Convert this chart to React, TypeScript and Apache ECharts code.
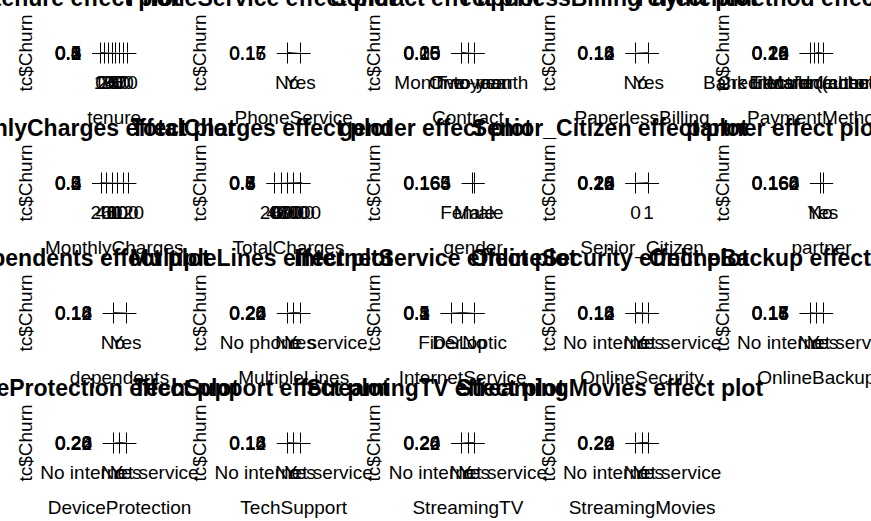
import React, { useEffect, useRef } from "react";
import * as echarts from "echarts";

const FONT = "'Liberation Sans', Arial, sans-serif";

// ---- data ----
const tenureTicks = [0, 10, 20, 30, 40, 50, 60, 70];
const tenureRange = [0, 72];
const tenureX = [0, 12, 24, 36, 48, 60, 72];
const tenureFit = [0.55, 0.38, 0.28, 0.21, 0.17, 0.13, 0.11];
const tenureY = [0.1, 0.2, 0.3, 0.4, 0.5, 0.6];

const phoneLevels = ["No", "Yes"];
const phoneFit = [0.17, 0.15];
const phoneY = [0.15, 0.16, 0.17];

const contractLevels = ["Month-to-month", "One year", "Two year"];
const contractFit = [0.25, 0.12, 0.06];
const contractY = [0.05, 0.1, 0.15, 0.2, 0.25];

const paperlessLevels = ["No", "Yes"];
const paperlessFit = [0.13, 0.17];
const paperlessY = [0.12, 0.14, 0.16, 0.18];

const paymentLevels = ["Bank transfer (automatic)", "Credit card (automatic)", "Electronic check", "Mailed check"];
const paymentFit = [0.16, 0.15, 0.27, 0.17];
const paymentY = [0.12, 0.16, 0.2, 0.24, 0.28];

const monthlyTicks = [20, 40, 60, 80, 100, 120];
const monthlyRange = [18.25, 118.75];
const monthlyX = [18.25, 40, 60, 80, 100, 118.75];
const monthlyFit = [0.5, 0.4, 0.33, 0.3, 0.28, 0.25];
const monthlyY = [0.2, 0.3, 0.4, 0.5, 0.6];

const totalTicks = [0, 2000, 4000, 6000, 8000];
const totalRange = [18.8, 8684.8];
const totalX = [18.8, 2000, 4000, 6000, 8000, 8684.8];
const totalFit = [0.3, 0.38, 0.48, 0.6, 0.72, 0.76];
const totalY = [0.3, 0.4, 0.5, 0.6, 0.7, 0.8];

const genderLevels = ["Female", "Male"];
const genderFit = [0.1655, 0.1635];
const genderY = [0.163, 0.164, 0.165, 0.166];

const seniorLevels = ["0", "1"];
const seniorFit = [0.2, 0.26];
const seniorY = [0.18, 0.2, 0.22, 0.24, 0.26, 0.28];

const partnerLevels = ["No", "Yes"];
const partnerFit = [0.1665, 0.1615];
const partnerY = [0.16, 0.162, 0.164, 0.166, 0.168];

const dependentsLevels = ["No", "Yes"];
const dependentsFit = [0.17, 0.14];
const dependentsY = [0.12, 0.14, 0.16, 0.18];

const multipleLevels = ["No", "No phone service", "Yes"];
const multipleFit = [0.21, 0.27, 0.25];
const multipleY = [0.2, 0.22, 0.24, 0.26, 0.28];

const internetLevels = ["DSL", "Fiber optic", "No"];
const internetFit = [0.2, 0.45, 0.12];
const internetY = [0.1, 0.2, 0.3, 0.4, 0.5];

const noNetLevels = ["No", "No internet service", "Yes"];
const onlineSecFit = [0.17, 0.15, 0.13];
const onlineSecY = [0.12, 0.14, 0.16, 0.18];
const onlineBackupFit = [0.17, 0.15, 0.155];
const onlineBackupY = [0.14, 0.15, 0.16, 0.17, 0.18];
const deviceFit = [0.21, 0.27, 0.24];
const deviceY = [0.2, 0.22, 0.24, 0.26, 0.28];
const techFit = [0.17, 0.15, 0.13];
const techY = [0.12, 0.14, 0.16, 0.18];
const streamTVFit = [0.21, 0.25, 0.25];
const streamTVY = [0.2, 0.22, 0.24, 0.26];
const streamMovFit = [0.21, 0.25, 0.25];
const streamMovY = [0.2, 0.22, 0.24, 0.26];

type Panel = {
  name: string;
  levels?: string[];
  ticks?: number[];
  range?: number[];
  x?: number[];
  fit: number[];
  yTicks: number[];
  yDec: number;
};

const panels: Panel[] = [
  { name: "tenure", ticks: tenureTicks, range: tenureRange, x: tenureX, fit: tenureFit, yTicks: tenureY, yDec: 1 },
  { name: "PhoneService", levels: phoneLevels, fit: phoneFit, yTicks: phoneY, yDec: 2 },
  { name: "Contract", levels: contractLevels, fit: contractFit, yTicks: contractY, yDec: 2 },
  { name: "PaperlessBilling", levels: paperlessLevels, fit: paperlessFit, yTicks: paperlessY, yDec: 2 },
  { name: "PaymentMethod", levels: paymentLevels, fit: paymentFit, yTicks: paymentY, yDec: 2 },
  { name: "MonthlyCharges", ticks: monthlyTicks, range: monthlyRange, x: monthlyX, fit: monthlyFit, yTicks: monthlyY, yDec: 1 },
  { name: "TotalCharges", ticks: totalTicks, range: totalRange, x: totalX, fit: totalFit, yTicks: totalY, yDec: 1 },
  { name: "gender", levels: genderLevels, fit: genderFit, yTicks: genderY, yDec: 3 },
  { name: "Senior_Citizen", levels: seniorLevels, fit: seniorFit, yTicks: seniorY, yDec: 2 },
  { name: "partner", levels: partnerLevels, fit: partnerFit, yTicks: partnerY, yDec: 3 },
  { name: "dependents", levels: dependentsLevels, fit: dependentsFit, yTicks: dependentsY, yDec: 2 },
  { name: "MultipleLines", levels: multipleLevels, fit: multipleFit, yTicks: multipleY, yDec: 2 },
  { name: "InternetService", levels: internetLevels, fit: internetFit, yTicks: internetY, yDec: 1 },
  { name: "OnlineSecurity", levels: noNetLevels, fit: onlineSecFit, yTicks: onlineSecY, yDec: 2 },
  { name: "OnlineBackup", levels: noNetLevels, fit: onlineBackupFit, yTicks: onlineBackupY, yDec: 2 },
  { name: "DeviceProtection", levels: noNetLevels, fit: deviceFit, yTicks: deviceY, yDec: 2 },
  { name: "TechSupport", levels: noNetLevels, fit: techFit, yTicks: techY, yDec: 2 },
  { name: "StreamingTV", levels: noNetLevels, fit: streamTVFit, yTicks: streamTVY, yDec: 2 },
  { name: "StreamingMovies", levels: noNetLevels, fit: streamMovFit, yTicks: streamMovY, yDec: 2 },
];

// ---- layout constants ----
const COL_W = 174.2;
const ROW_H = 130;
const FS = 19;
const TITLE_FS = 23;

function textW(s: string) {
  let w = 0;
  for (const ch of s) w += ch === "." ? 0.278 : 0.556;
  return w * FS;
}

function buildOption() {
  const grids: any[] = [];
  const xAxes: any[] = [];
  const yAxes: any[] = [];
  const series: any[] = [];
  const titles: any[] = [];
  const txt = { color: "#000", fontFamily: FONT, fontSize: FS };
  const noLabel = { show: false };

  panels.forEach((p, i) => {
    const r = Math.floor(i / 5);
    const c = i % 5;
    const colX = c * COL_W;
    const yLabels = p.yTicks.map((v) => v.toFixed(p.yDec));
    const labelW = Math.max(...yLabels.map(textW));
    const Ls = colX + 55 + labelW + 11;
    const Le = colX + 136;
    const width = Le - Ls;
    const axisY = 53 + r * ROW_H;
    const yMin = p.yTicks[0];
    const yMax = p.yTicks[p.yTicks.length - 1];
    const yDec = p.yDec;

    let min: number, max: number, tickVals: number[], fmt: (v: number) => string, data: number[][];
    if (p.levels) {
      const n = p.levels.length;
      const inner = width - 20;
      const u = inner / (n - 1);
      min = 1 - 10 / u;
      max = n + 10 / u;
      tickVals = p.levels.map((_, k) => k + 1);
      const lv = p.levels;
      fmt = (v: number) => lv[Math.round(v) - 1] ?? "";
      data = p.fit.map((f, k) => [k + 1, f]);
    } else {
      const [lo0, hi0] = p.range as number[];
      const ext = 0.04 * (hi0 - lo0);
      const lo = lo0 - ext;
      const hi = hi0 + ext;
      const inner = width - 14;
      const u = inner / (hi - lo);
      min = lo - 7 / u;
      max = hi + 7 / u;
      tickVals = p.ticks as number[];
      fmt = (v: number) => String(Math.round(v));
      const xs = p.x as number[];
      data = p.fit.map((f, k) => [xs[k], f]);
    }

    const gridDef = { left: Ls, width, top: axisY - 0.5, height: 1, outerBoundsMode: "none", containLabel: false };

    // main grid: axis line, ticks, axis names, fitted line
    const gMain = grids.length;
    grids.push({ ...gridDef });
    const xMain = xAxes.length;
    xAxes.push({
      type: "value",
      gridIndex: gMain,
      position: "bottom",
      min,
      max,
      axisLine: { show: true, lineStyle: { color: "#000", width: 1 } },
      axisTick: { show: true, length: 10, customValues: tickVals, lineStyle: { color: "#000", width: 1 } },
      axisLabel: noLabel,
      splitLine: { show: false },
      name: p.name,
      nameLocation: "middle",
      nameGap: 54,
      nameTextStyle: { ...txt },
    });
    xAxes.push({
      type: "value",
      gridIndex: gMain,
      position: "top",
      min,
      max,
      axisLine: { show: false },
      axisTick: { show: true, length: 10, customValues: tickVals, lineStyle: { color: "#000", width: 1 } },
      axisLabel: noLabel,
      splitLine: { show: false },
    });
    const yMain = yAxes.length;
    yAxes.push({
      type: "value",
      gridIndex: gMain,
      min: yMin,
      max: yMax,
      axisLine: { show: false },
      axisTick: { show: false },
      splitLine: { show: false },
      axisLabel: noLabel,
      name: "tc$Churn",
      nameLocation: "middle",
      nameRotate: 90,
      nameGap: Ls - colX - 35,
      nameTextStyle: { ...txt },
    });
    series.push({
      type: "line",
      xAxisIndex: xMain,
      yAxisIndex: yMain,
      data,
      symbol: "none",
      silent: true,
      lineStyle: { color: "#000", width: 1 },
    });

    // label grids: one tick label per axis, so that overlapping labels all stay visible
    const nLab = Math.max(tickVals.length, p.yTicks.length);
    for (let k = 0; k < nLab; k++) {
      const g = grids.length;
      grids.push({ ...gridDef });
      const xv = tickVals[k];
      const yv = p.yTicks[k];
      xAxes.push({
        type: "value",
        gridIndex: g,
        position: "bottom",
        min,
        max,
        axisLine: { show: false },
        axisTick: { show: false },
        splitLine: { show: false },
        axisLabel:
          xv === undefined
            ? noLabel
            : { show: true, customValues: [xv], formatter: fmt, margin: 19, showMinLabel: true, showMaxLabel: true, ...txt },
      });
      yAxes.push({
        type: "value",
        gridIndex: g,
        min: yMin,
        max: yMax,
        axisLine: { show: false },
        axisTick: { show: false },
        splitLine: { show: false },
        axisLabel:
          yv === undefined
            ? noLabel
            : {
                show: true,
                customValues: [yv],
                formatter: (v: number) => v.toFixed(yDec),
                margin: 11,
                showMinLabel: true,
                showMaxLabel: true,
                ...txt,
              },
      });
    }

    titles.push({
      text: p.name + " effect plot",
      left: colX + COL_W / 2,
      top: -2 + r * ROW_H - TITLE_FS / 2,
      textAlign: "center",
      padding: 0,
      textStyle: { color: "#000", fontFamily: FONT, fontSize: TITLE_FS, fontWeight: "bold" },
    });
  });

  return {
    animation: false,
    backgroundColor: "#fff",
    title: titles,
    grid: grids,
    xAxis: xAxes,
    yAxis: yAxes,
    series,
  };
}

export default function App() {
  const ref = useRef<HTMLDivElement>(null);
  useEffect(() => {
    if (!ref.current) return;
    const chart = echarts.init(ref.current, null, { renderer: "svg" });
    chart.setOption(buildOption() as any);
    return () => chart.dispose();
  }, []);
  return (
    <div
      ref={ref}
      style={{ position: "fixed", left: 0, top: 0, width: 871, height: 521, background: "#fff" }}
    />
  );
}
